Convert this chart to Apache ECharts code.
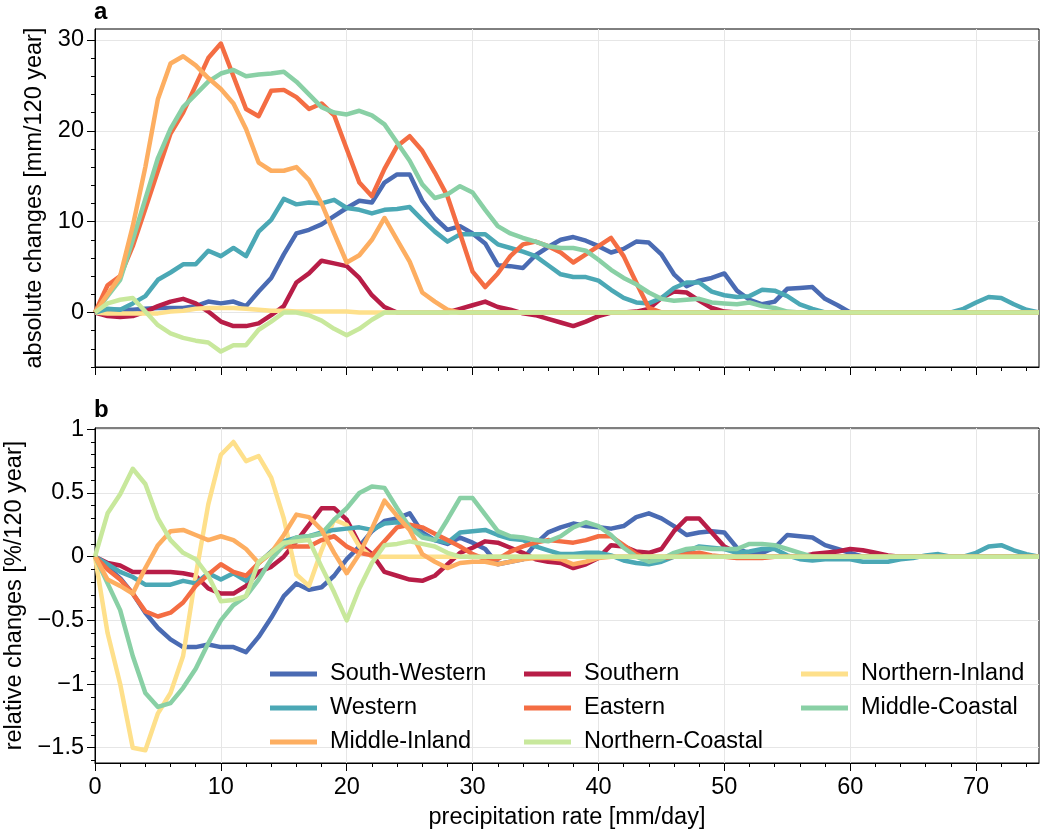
<!DOCTYPE html>
<html>
<head>
<meta charset="utf-8">
<script src="https://cdn.jsdelivr.net/npm/echarts@6/dist/echarts.min.js"></script>
<style>
  html, body { margin: 0; padding: 0; background: #fff; }
  #chart { width: 1042px; height: 831px; }
</style>
</head>
<body>
<div id="chart"></div>
<script>
// precipitation rate bins [mm/day]
const rate = [0, 1, 2, 3, 4, 5, 6, 7, 8, 9, 10, 11, 12, 13, 14, 15, 16, 17, 18, 19,
  20, 21, 22, 23, 24, 25, 26, 27, 28, 29, 30, 31, 32, 33, 34, 35, 36, 37, 38, 39,
  40, 41, 42, 43, 44, 45, 46, 47, 48, 49, 50, 51, 52, 53, 54, 55, 56, 57, 58, 59,
  60, 61, 62, 63, 64, 65, 66, 67, 68, 69, 70, 71, 72, 73, 74, 75];

// a: absolute changes [mm/120 year]
const absSouthWestern = [0, 0.3, 0.3, 0.3, 0.4, 0.5, 0.5, 0.5, 0.7, 1.2, 1.0, 1.2, 0.7, 2.3, 3.8, 6.4, 8.7, 9.1, 9.7, 10.6,
  11.5, 12.3, 12.1, 14.3, 15.2, 15.2, 12.3, 10.4, 9.1, 9.5, 8.7, 7.6, 5.2, 5.1, 4.9, 6.3, 7.2, 8.0, 8.3, 7.9,
  7.3, 6.6, 7.0, 7.8, 7.7, 6.4, 4.2, 2.9, 3.5, 3.8, 4.3, 2.4, 1.4, 0.9, 1.2, 2.6, 2.7, 2.8, 1.5, 0.8,
  0, 0, 0, 0, 0, 0, 0, 0, 0, 0, 0, 0, 0, 0, 0, 0];
const absSouthern = [0, -0.4, -0.5, -0.4, 0.1, 0.7, 1.2, 1.5, 1.0, 0.1, -1.0, -1.5, -1.5, -1.2, -0.3, 0.7, 3.3, 4.3, 5.7, 5.4,
  5.1, 3.8, 1.9, 0.6, 0, 0, 0, 0, 0, 0.4, 0.8, 1.2, 0.6, 0.3, -0.1, -0.3, -0.7, -1.1, -1.5, -1.0,
  -0.4, 0, 0, 0.1, 0.4, 1.6, 2.3, 2.2, 1.3, 0.5, 0.1, 0, 0, 0, 0, 0, 0, 0, 0, 0,
  0, 0, 0, 0, 0, 0, 0, 0, 0, 0, 0, 0, 0, 0, 0, 0];
const absNorthernInland = [0, -0.1, -0.1, -0.1, -0.1, -0.1, 0.1, 0.2, 0.4, 0.5, 0.5, 0.5, 0.4, 0.3, 0.2, 0.2, 0.1, 0.1, 0.1, 0.1,
  0.1, 0, 0, 0, 0, 0, 0, 0, 0, 0, 0, 0, 0, 0, 0, 0, 0, 0, 0, 0,
  0, 0, 0, 0, 0, 0, 0, 0, 0, 0, 0, 0, 0, 0, 0, 0, 0, 0, 0, 0,
  0, 0, 0, 0, 0, 0, 0, 0, 0, 0, 0, 0, 0, 0, 0, 0];
const absWestern = [0, 0.4, 0.3, 1.0, 1.8, 3.6, 4.4, 5.3, 5.3, 6.8, 6.2, 7.1, 6.2, 8.9, 10.2, 12.5, 11.9, 12.1, 12.0, 12.4,
  11.5, 11.3, 10.9, 11.3, 11.4, 11.6, 10.2, 8.9, 7.8, 8.6, 8.6, 8.6, 7.5, 7.1, 6.7, 6.2, 5.2, 4.2, 3.9, 3.9,
  3.5, 2.5, 1.6, 1.1, 1.0, 1.6, 2.7, 3.3, 3.3, 2.3, 1.9, 1.7, 1.8, 2.5, 2.4, 1.8, 0.9, 0.4, 0, 0,
  0, 0, 0, 0, 0, 0, 0, 0, 0, 0.4, 1.1, 1.7, 1.6, 0.9, 0.3, 0];
const absEastern = [0, 3.0, 4.0, 7.3, 11.4, 15.6, 19.7, 22.0, 25.0, 28.0, 29.6, 26.0, 22.4, 21.6, 24.4, 24.5, 23.7, 22.4, 23.0, 21.7,
  18.0, 14.3, 12.8, 15.8, 18.3, 19.4, 17.8, 15.4, 12.8, 8.7, 4.5, 2.8, 4.3, 6.2, 7.5, 7.8, 7.3, 6.6, 5.5, 6.4,
  7.3, 8.2, 6.2, 3.3, 0.5, 0, 0, 0, 0, 0, 0, 0, 0, 0, 0, 0, 0, 0, 0, 0,
  0, 0, 0, 0, 0, 0, 0, 0, 0, 0, 0, 0, 0, 0, 0, 0];
const absMiddleCoastal = [0, 1.8, 3.6, 8.0, 12.5, 17.0, 20.2, 22.6, 24.0, 25.4, 26.3, 26.7, 26.0, 26.2, 26.3, 26.5, 25.4, 24.0, 22.6, 22.0,
  21.8, 22.2, 21.7, 20.7, 18.7, 16.7, 14.1, 12.6, 13.0, 13.9, 13.2, 11.3, 9.5, 8.7, 8.2, 7.8, 7.3, 7.1, 7.1, 6.8,
  5.8, 4.7, 3.8, 3.1, 2.2, 1.5, 1.3, 1.4, 1.5, 1.1, 1.0, 0.9, 1.1, 0.7, 0.5, 0.1, 0, 0, 0, 0,
  0, 0, 0, 0, 0, 0, 0, 0, 0, 0, 0, 0, 0, 0, 0, 0];
const absMiddleInland = [0, 2.0, 4.0, 9.5, 16.0, 23.5, 27.4, 28.2, 27.2, 25.8, 24.6, 23.0, 20.2, 16.5, 15.6, 15.6, 16.0, 14.6, 12.0, 8.7,
  5.5, 6.3, 8.0, 10.4, 8.0, 5.6, 2.2, 1.2, 0.3, 0, 0, 0, 0, 0, 0, 0, 0, 0, 0, 0,
  0, 0, 0, 0, 0, 0, 0, 0, 0, 0, 0, 0, 0, 0, 0, 0, 0, 0, 0, 0,
  0, 0, 0, 0, 0, 0, 0, 0, 0, 0, 0, 0, 0, 0, 0, 0];
const absNorthernCoastal = [0, 1.0, 1.4, 1.6, 0.1, -1.4, -2.3, -2.8, -3.1, -3.3, -4.3, -3.6, -3.6, -1.9, -1.0, 0, 0, -0.3, -0.9, -1.8,
  -2.5, -1.8, -0.8, 0, 0, 0, 0, 0, 0, 0, 0, 0, 0, 0, 0, 0, 0, 0, 0, 0,
  0, 0, 0, 0, 0, 0, 0, 0, 0, 0, 0, 0, 0, 0, 0, 0, 0, 0, 0, 0,
  0, 0, 0, 0, 0, 0, 0, 0, 0, 0, 0, 0, 0, 0, 0, 0];

// b: relative changes [%/120 year]
const relSouthWestern = [0, -0.08, -0.17, -0.29, -0.44, -0.56, -0.65, -0.71, -0.71, -0.69, -0.71, -0.71, -0.75, -0.63, -0.48, -0.31, -0.21, -0.26, -0.24, -0.15,
  -0.02, 0.08, 0.2, 0.28, 0.3, 0.34, 0.19, 0.13, 0.1, 0.15, 0.11, 0.06, -0.06, -0.04, -0.02, 0.1, 0.19, 0.23, 0.26, 0.24,
  0.23, 0.22, 0.24, 0.31, 0.34, 0.3, 0.24, 0.17, 0.19, 0.2, 0.19, 0.07, 0.02, 0.03, 0.07, 0.17, 0.16, 0.15, 0.09, 0.06,
  0.03, 0, 0, 0, 0, 0, 0, 0, 0, 0, 0, 0, 0, 0, 0, 0];
const relSouthern = [0, -0.05, -0.07, -0.12, -0.12, -0.12, -0.12, -0.13, -0.15, -0.25, -0.29, -0.29, -0.23, -0.12, -0.08, 0, 0.12, 0.25, 0.38, 0.38,
  0.29, 0.1, 0.02, -0.12, -0.15, -0.18, -0.19, -0.15, -0.06, 0.03, 0.07, 0.12, 0.11, 0.07, 0.03, -0.02, -0.04, -0.05, -0.09, -0.06,
  -0.01, 0.09, 0.08, 0.04, 0.03, 0.06, 0.2, 0.3, 0.3, 0.19, 0.08, 0.03, 0, 0, 0, 0, 0, 0.02, 0.03, 0.04,
  0.06, 0.05, 0.03, 0.01, 0, 0, 0, 0, 0, 0, 0, 0, 0, 0, 0, 0];
const relNorthernInland = [0, -0.6, -1.0, -1.5, -1.52, -1.23, -1.07, -0.78, -0.15, 0.41, 0.8, 0.9, 0.75, 0.79, 0.62, 0.3, -0.14, -0.23, 0.05, 0.29,
  0.25, 0.08, 0, 0, 0, 0, 0, 0, 0, 0, 0, 0, 0, 0, 0, 0, 0, 0, 0, 0,
  0, 0, 0, 0, 0, 0, 0, 0, 0, 0, 0, 0, 0, 0, 0, 0, 0, 0, 0, 0,
  0, 0, 0, 0, 0, 0, 0, 0, 0, 0, 0, 0, 0, 0, 0, 0];
const relWestern = [0, -0.06, -0.12, -0.16, -0.22, -0.22, -0.22, -0.19, -0.21, -0.13, -0.18, -0.13, -0.19, -0.05, 0.04, 0.12, 0.15, 0.16, 0.19, 0.21,
  0.22, 0.23, 0.21, 0.26, 0.27, 0.24, 0.17, 0.13, 0.11, 0.19, 0.2, 0.21, 0.17, 0.14, 0.13, 0.08, 0.05, 0.02, 0.02, 0.03,
  0.03, 0.01, -0.03, -0.05, -0.06, -0.04, 0, 0.04, 0.08, 0.07, 0.06, 0.03, 0.04, 0.06, 0.06, 0.01, -0.02, -0.03, -0.02, -0.02,
  -0.02, -0.04, -0.04, -0.04, -0.02, -0.01, 0.01, 0.02, 0, 0, 0.03, 0.08, 0.09, 0.05, 0.02, 0];
const relEastern = [0, -0.1, -0.18, -0.29, -0.43, -0.47, -0.44, -0.36, -0.23, -0.14, -0.06, -0.12, -0.15, -0.05, 0.03, 0.08, 0.08, 0.08, 0.13, 0.16,
  0.08, 0.03, 0.01, 0.12, 0.23, 0.25, 0.23, 0.18, 0.13, 0.08, 0.02, -0.02, -0.02, 0.04, 0.08, 0.11, 0.13, 0.12, 0.11, 0.13,
  0.16, 0.16, 0.09, 0.02, -0.02, -0.01, 0, 0.02, 0.03, 0.01, 0, -0.01, -0.01, -0.01, 0, 0, 0, 0, 0, 0,
  0, 0, 0, 0, 0, 0, 0, 0, 0, 0, 0, 0, 0, 0, 0, 0];
const relMiddleCoastal = [0, -0.21, -0.42, -0.78, -1.07, -1.18, -1.15, -1.03, -0.88, -0.68, -0.5, -0.38, -0.31, -0.18, -0.02, 0.09, 0.15, 0.16, 0.18, 0.29,
  0.38, 0.5, 0.55, 0.54, 0.38, 0.23, 0.15, 0.13, 0.29, 0.46, 0.46, 0.33, 0.2, 0.16, 0.15, 0.13, 0.12, 0.16, 0.23, 0.27,
  0.24, 0.17, 0.07, 0, -0.04, -0.02, 0.03, 0.06, 0.07, 0.06, 0.06, 0.06, 0.1, 0.1, 0.09, 0.06, 0.03, 0, 0, 0,
  0, 0, 0, 0, 0, 0, 0, 0, 0, 0, 0, 0, 0, 0, 0, 0];
const relMiddleInland = [0, -0.18, -0.23, -0.29, -0.09, 0.09, 0.2, 0.21, 0.17, 0.13, 0.16, 0.13, 0.06, -0.05, 0.03, 0.17, 0.33, 0.31, 0.21, 0.03,
  -0.13, 0.02, 0.22, 0.44, 0.32, 0.21, 0.02, -0.04, -0.09, -0.05, -0.04, -0.04, -0.06, -0.04, -0.02, -0.01, -0.01, -0.02, -0.06, -0.04,
  -0.01, 0, 0, 0, 0, 0, 0, 0, 0, 0, 0, 0, 0, 0, 0, 0, 0, 0, 0, 0,
  0, 0, 0, 0, 0, 0, 0, 0, 0, 0, 0, 0, 0, 0, 0, 0];
const relNorthernCoastal = [0, 0.34, 0.49, 0.69, 0.57, 0.3, 0.13, 0.03, -0.02, -0.15, -0.35, -0.34, -0.31, -0.04, 0.03, 0.11, 0.12, 0.13, -0.08, -0.28,
  -0.5, -0.25, -0.05, 0.09, 0.1, 0.12, 0.1, 0.08, 0.03, 0, 0, 0, 0, 0, 0, 0, 0, 0, 0, 0,
  0, 0, 0, 0, 0, 0, 0, 0, 0, 0, 0, 0, 0, 0, 0, 0, 0, 0, 0, 0,
  0, 0, 0, 0, 0, 0, 0, 0, 0, 0, 0, 0, 0, 0, 0, 0];

// regions in drawing order (row-major legend)
const regions = ['South-Western', 'Southern', 'Northern-Inland', 'Western', 'Eastern', 'Middle-Coastal', 'Middle-Inland', 'Northern-Coastal'];
const colors = ['#4a6bb3', '#b81d47', '#fee08b', '#4ba8b5', '#f46d43', '#89d0a5', '#fdae61', '#c8e89c'];
const absData = [absSouthWestern, absSouthern, absNorthernInland, absWestern, absEastern, absMiddleCoastal, absMiddleInland, absNorthernCoastal];
const relData = [relSouthWestern, relSouthern, relNorthernInland, relWestern, relEastern, relMiddleCoastal, relMiddleInland, relNorthernCoastal];

// legend columns
const legendCols = [
  ['South-Western', 'Western', 'Middle-Inland'],
  ['Southern', 'Eastern', 'Northern-Coastal'],
  ['Northern-Inland', 'Middle-Coastal'],
];

// ticks
const xMajor = [0, 10, 20, 30, 40, 50, 60, 70];
const xMinor = [2, 4, 6, 8, 12, 14, 16, 18, 22, 24, 26, 28, 32, 34, 36, 38, 42, 44, 46, 48,
  52, 54, 56, 58, 62, 64, 66, 68, 72, 74];
const absMajor = [0, 10, 20, 30];
const absMinor = [-6, -4, -2, 2, 4, 6, 8, 12, 14, 16, 18, 22, 24, 26, 28];
const relMajor = [-1.5, -1, -0.5, 0, 0.5, 1];
const relMinor = [-1.6, -1.4, -1.3, -1.2, -1.1, -0.9, -0.8, -0.7, -0.6, -0.4, -0.3, -0.2, -0.1,
  0.1, 0.2, 0.3, 0.4, 0.6, 0.7, 0.8, 0.9];

const FONT = 'Liberation Sans, Arial, sans-serif';
const FS = 23.5;
const fmt = (v) => (v < 0 ? '\u2212' + Math.abs(v) : String(v));

function majorAxis(grid, ticks, showLabel, extra) {
  return Object.assign({
    type: 'value',
    gridIndex: grid,
    axisLine: { show: true, onZero: false, lineStyle: { color: '#000', width: 1 } },
    axisTick: { show: true, inside: false, length: 8, lineStyle: { color: '#000', width: 1 }, customValues: ticks },
    axisLabel: { show: showLabel, customValues: ticks, fontSize: FS, color: '#000', fontFamily: FONT, formatter: fmt, margin: 11 },
    splitLine: { show: true, lineStyle: { color: '#e6e6e6', width: 1 } },
    nameTextStyle: { fontSize: FS, color: '#000', fontFamily: FONT },
  }, extra);
}
function minorAxis(grid, ticks, extra) {
  return Object.assign({
    type: 'value',
    gridIndex: grid,
    axisLine: { show: false, onZero: false },
    axisTick: { show: true, inside: false, length: 4, lineStyle: { color: '#000', width: 1 }, customValues: ticks },
    axisLabel: { show: false },
    splitLine: { show: false },
  }, extra);
}

const series = [];
regions.forEach((name, k) => {
  [absData, relData].forEach((src, g) => {
    series.push({
      name: name,
      type: 'line',
      xAxisIndex: g * 2,
      yAxisIndex: g * 2,
      data: rate.map((x, i) => [x, src[k][i]]),
      color: colors[k],
      showSymbol: false,
      lineStyle: { width: 4.5, color: colors[k], join: 'round' },
      emphasis: { disabled: true },
    });
  });
});

const chart = echarts.init(document.getElementById('chart'), null, { renderer: 'canvas' });
chart.setOption({
  animation: false,
  backgroundColor: '#fff',
  title: [
    { text: 'a', left: 94, top: 0, padding: [0, 0, 0, 0], textStyle: { fontSize: 24, fontWeight: 'bold', color: '#000', fontFamily: FONT } },
    { text: 'b', left: 94, top: 398, padding: [0, 0, 0, 0], textStyle: { fontSize: 24, fontWeight: 'bold', color: '#000', fontFamily: FONT } },
  ],
  grid: [
    { left: 95, top: 29, width: 944, height: 338, show: true, borderColor: '#000', borderWidth: 1,
      backgroundColor: 'transparent', containLabel: false, outerBoundsMode: 'none' },
    { left: 95, top: 428, width: 944, height: 335, show: true, borderColor: '#000', borderWidth: 1,
      backgroundColor: 'transparent', containLabel: false, outerBoundsMode: 'none' },
  ],
  legend: legendCols.map((col, i) => ({
    data: col,
    orient: 'vertical',
    left: [270, 524, 801][i],
    top: 662,
    padding: 0,
    icon: 'rect',
    itemWidth: 47,
    itemHeight: 5,
    itemGap: 10,
    selectedMode: false,
    textStyle: { fontSize: FS, color: '#000', fontFamily: FONT, padding: [0, 0, 0, 8], lineHeight: 24 },
  })),
  xAxis: [
    majorAxis(0, xMajor, false, { min: 0, max: 75, position: 'bottom' }),
    minorAxis(0, xMinor, { min: 0, max: 75, position: 'bottom' }),
    majorAxis(1, xMajor, true, {
      min: 0, max: 75, position: 'bottom',
      axisLabel: { customValues: xMajor, fontSize: FS, color: '#000', fontFamily: FONT, margin: 13 },
      name: 'precipitation rate [mm/day]', nameLocation: 'middle', nameGap: 43,
    }),
    minorAxis(1, xMinor, { min: 0, max: 75, position: 'bottom' }),
  ],
  yAxis: [
    majorAxis(0, absMajor, true, {
      min: -6, max: 31.2, position: 'left',
      name: 'absolute changes [mm/120 year]', nameLocation: 'middle', nameGap: 45,
    }),
    minorAxis(0, absMinor, { min: -6, max: 31.2, position: 'left' }),
    majorAxis(1, relMajor, true, {
      min: -1.62, max: 1.01, position: 'left',
      name: 'relative changes [%/120 year]', nameLocation: 'middle', nameGap: 63,
    }),
    minorAxis(1, relMinor, { min: -1.62, max: 1.01, position: 'left' }),
  ],
  series: series,
});
</script>
</body>
</html>
